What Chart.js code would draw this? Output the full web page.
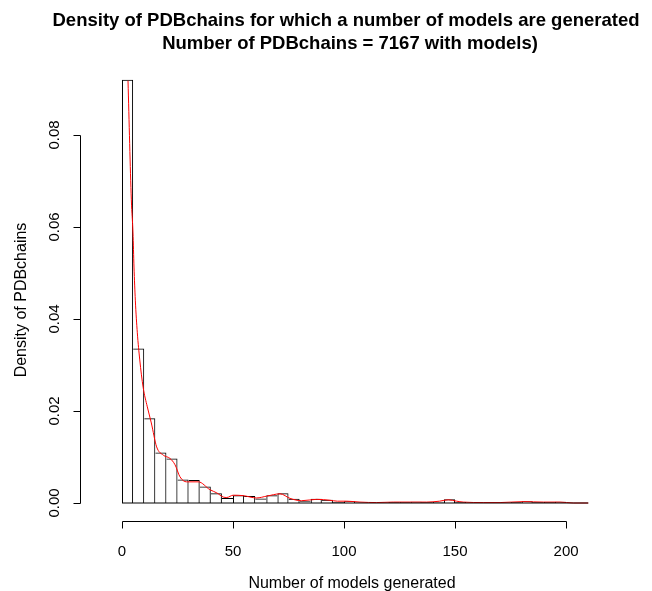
<!DOCTYPE html>
<html>
<head>
<meta charset="utf-8">
<script src="https://cdn.jsdelivr.net/npm/chart.js@4.4.1/dist/chart.umd.min.js"></script>
<style>
  html, body { margin: 0; padding: 0; background: #fff; }
  #wrap { width: 652px; height: 591px; }
</style>
</head>
<body>
<div id="wrap"><canvas id="histChart" width="652" height="591"></canvas></div>
<script>
// histogram of models per chain: breaks every 5 from 0 to 210
const binWidth = 5;
const binStarts = [0, 5, 10, 15, 20, 25, 30, 35, 40, 45, 50, 55, 60, 65, 70, 75, 80, 85, 90, 95,
  100, 105, 110, 115, 120, 125, 130, 135, 140, 145, 150, 155, 160, 165, 170, 175, 180, 185, 190, 195,
  200, 205];
const binDensity = [0.0920, 0.0336, 0.0184, 0.0110, 0.0097, 0.0051, 0.0050, 0.0036, 0.0021, 0.0011,
  0.0017, 0.0015, 0.0010, 0.0017, 0.0021, 0.0009, 0.0004, 0.0009, 0.0007, 0.0002,
  0.0004, 0.0001, 0.0001, 0.0001, 0.0002, 0.0002, 0.0003, 0.0002, 0.0003, 0.0008,
  0.0002, 0.0001, 0.0001, 0.0001, 0.0001, 0.0002, 0.0004, 0.0002, 0.0002, 0.0003,
  0.0000, 0.0000];

// kernel density estimate (red curve)
const kdeX = [2.7, 4.2, 4.95, 5.4, 6.0, 6.9, 8.0, 9.5, 11.4, 13.2, 15.6, 18.6, 21.6, 23.9, 26.1,
  29.1, 34.4, 39.6, 42.7, 45.6, 47.2, 50.1, 54.6, 60.6, 65.2, 71.2, 75.7, 80.9, 87.7, 93.7,
  97, 101.2, 107.2, 114.7, 122.2, 129.7, 137.2, 143, 147, 150.7, 153.7, 162.7, 170.3, 180.8,
  189.8, 197.3, 203.3, 210];
const kdeY = [0.0918, 0.0659, 0.0587, 0.0513, 0.0441, 0.0370, 0.0311, 0.0252, 0.0209, 0.0174,
  0.0122, 0.0104, 0.0097, 0.0083, 0.0057, 0.0046, 0.0046, 0.0029, 0.0022, 0.0013, 0.0012,
  0.0017, 0.0016, 0.0011, 0.0015, 0.0020, 0.0010, 0.0005, 0.0008, 0.0006, 0.0004, 0.0004,
  0.0002, 0.0001, 0.0002, 0.0002, 0.0002, 0.0004, 0.0007, 0.0004, 0.0002, 0.0001, 0.0001,
  0.0003, 0.0002, 0.0002, 0.0000, 0.0000];

const xTicks = [0, 50, 100, 150, 200];
const yTicks = [0, 0.02, 0.04, 0.06, 0.08];
const yTickLabels = ['0.00', '0.02', '0.04', '0.06', '0.08'];

const titleLines = [
  'Density of PDBchains for which a number of models are generated',
  'Number of PDBchains = 7167 with models)'
];
const xTitle = 'Number of models generated';
const yTitle = 'Density of PDBchains';

const FONT = '"Liberation Sans", Arial, Helvetica, sans-serif';

const barData = binStarts.map((s, i) => ({ x: s + binWidth / 2, y: binDensity[i] }));
const kdeData = kdeX.map((x, i) => ({ x: x, y: kdeY[i] }));

// only the taller of two neighbouring bars draws the shared edge
function barBorder(ctx) {
  const i = ctx.dataIndex;
  const v = binDensity[i];
  const prev = i > 0 ? binDensity[i - 1] : 0;
  const next = i < binDensity.length - 1 ? binDensity[i + 1] : 0;
  return { top: 1, left: prev <= v ? 1 : 0, right: next < v ? 1 : 0, bottom: 0 };
}

// base-graphics style axes, titles and histogram baseline
const baseAxes = {
  id: 'baseAxes',
  afterDraw(chart) {
    const { ctx, chartArea } = chart;
    const x = chart.scales.x, y = chart.scales.y;
    const px = v => Math.round(v) + 0.5;
    ctx.save();
    ctx.strokeStyle = '#000';
    ctx.fillStyle = '#000';
    ctx.lineWidth = 1;

    // bottom edge of the histogram bars
    const y0 = px(y.getPixelForValue(0));
    ctx.beginPath();
    ctx.moveTo(x.getPixelForValue(binStarts[0]), y0 - 0.5);
    ctx.lineTo(x.getPixelForValue(binStarts[binStarts.length - 1] + binWidth), y0 - 0.5);
    ctx.stroke();

    // x axis
    const ax = px(chartArea.bottom);
    ctx.beginPath();
    ctx.moveTo(px(x.getPixelForValue(xTicks[0])), ax);
    ctx.lineTo(px(x.getPixelForValue(xTicks[xTicks.length - 1])), ax);
    xTicks.forEach(t => {
      const tx = px(x.getPixelForValue(t));
      ctx.moveTo(tx, ax);
      ctx.lineTo(tx, ax + 7);
    });
    ctx.stroke();
    ctx.font = '15px ' + FONT;
    ctx.textAlign = 'center';
    ctx.textBaseline = 'alphabetic';
    xTicks.forEach(t => ctx.fillText(String(t), x.getPixelForValue(t), 556));

    // y axis
    const ay = px(chartArea.left);
    ctx.beginPath();
    ctx.moveTo(ay, px(y.getPixelForValue(yTicks[0])));
    ctx.lineTo(ay, px(y.getPixelForValue(yTicks[yTicks.length - 1])));
    yTicks.forEach(t => {
      const ty = px(y.getPixelForValue(t));
      ctx.moveTo(ay, ty);
      ctx.lineTo(ay - 7, ty);
    });
    ctx.stroke();
    yTicks.forEach((t, i) => {
      ctx.save();
      ctx.translate(59, y.getPixelForValue(t));
      ctx.rotate(-Math.PI / 2);
      ctx.fillText(yTickLabels[i], 0, 0);
      ctx.restore();
    });

    // axis titles
    ctx.font = '16px ' + FONT;
    ctx.fillText(xTitle, 352, 588);
    ctx.save();
    ctx.translate(26, 300);
    ctx.rotate(-Math.PI / 2);
    ctx.fillText(yTitle, 0, 0);
    ctx.restore();

    // main title
    ctx.font = 'bold 18.5px ' + FONT;
    ctx.fillText(titleLines[0], 346, 26);
    ctx.fillText(titleLines[1], 350, 49);
    ctx.restore();
  }
};

const chart = new Chart(document.getElementById('histChart'), {
  data: {
    datasets: [{
      type: 'line',
      label: 'density',
      data: kdeData,
      borderColor: '#ff0000',
      borderWidth: 1,
      pointRadius: 0,
      cubicInterpolationMode: 'monotone',
      fill: false
    }, {
      type: 'bar',
      label: 'histogram',
      data: barData,
      backgroundColor: 'rgba(255,255,255,0)',
      borderColor: '#000',
      borderWidth: barBorder,
      borderSkipped: false,
      inflateAmount: 0,
      barPercentage: 1.0,
      categoryPercentage: 1.0
    }]
  },
  options: {
    responsive: false,
    animation: false,
    layout: { padding: { left: 80, right: 32, top: 62, bottom: 70 } },
    plugins: {
      legend: { display: false },
      tooltip: { enabled: false },
      title: { display: false }
    },
    scales: {
      x: { type: 'linear', display: false, offset: false, min: -18.92, max: 224.3 },
      y: { type: 'linear', display: false, min: -0.00391, max: 0.09587 }
    }
  },
  plugins: [baseAxes]
});
</script>
</body>
</html>
